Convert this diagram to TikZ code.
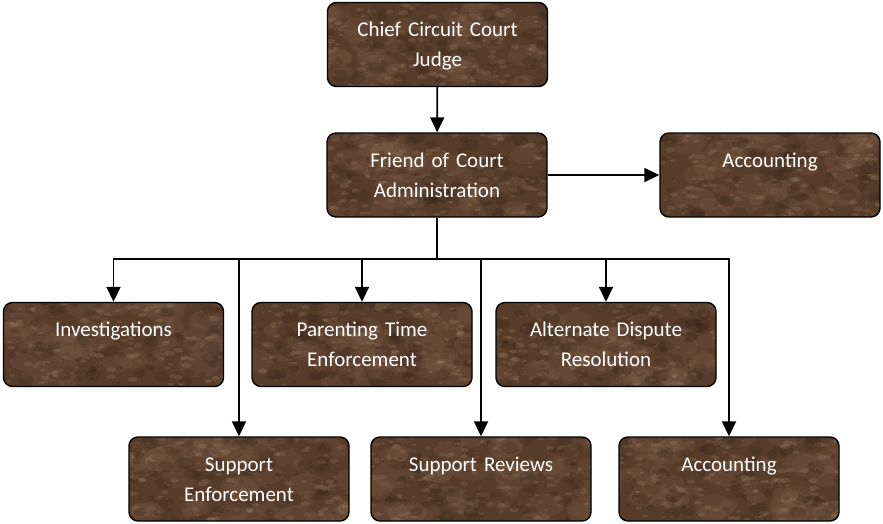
\documentclass[tikz,border=0pt]{standalone}
\usepackage{fontspec}
\setmainfont{Carlito}
\usetikzlibrary{arrows.meta,calc}
\definecolor{marble}{RGB}{88,60,42}
\definecolor{marblelight}{RGB}{190,160,128}
\definecolor{marbledark}{RGB}{40,25,16}
\tikzset{
  marbletex/.style={path picture={
    \foreach \k in {1,...,40}{
      \pgfmathsetmacro{\px}{rnd*225}
      \pgfmathsetmacro{\py}{rnd*88}
      \pgfmathsetmacro{\pr}{8+rnd*14}
      \fill[marblelight, opacity=0.08]
        ($(path picture bounding box.south west)+(\px pt,\py pt)$)
        circle [x radius=\pr pt, y radius=0.6*\pr pt];
    }
    \foreach \k in {1,...,150}{
      \pgfmathsetmacro{\px}{rnd*225}
      \pgfmathsetmacro{\py}{rnd*88}
      \pgfmathsetmacro{\pr}{1.2+rnd*4}
      \fill[marblelight, opacity=0.17]
        ($(path picture bounding box.south west)+(\px pt,\py pt)$)
        circle [x radius=\pr pt, y radius=0.5*\pr pt];
    }
    \foreach \k in {1,...,80}{
      \pgfmathsetmacro{\px}{rnd*225}
      \pgfmathsetmacro{\py}{rnd*88}
      \pgfmathsetmacro{\pr}{2+rnd*7}
      \fill[marbledark, opacity=0.18]
        ($(path picture bounding box.south west)+(\px pt,\py pt)$)
        circle [x radius=\pr pt, y radius=0.7*\pr pt];
    }
  }},
  box/.style={draw=black, line width=1.4pt, rounded corners=9pt, fill=marble,
    minimum width=220pt, minimum height=84pt, inner sep=0pt, marbletex},
  lbl/.style={text=white, font=\fontsize{21}{30}\selectfont, align=center,
    text width=216pt, anchor=base, inner sep=0pt},
  conn/.style={line width=1.8pt},
  arr/.style={conn, -{Triangle[length=15pt,width=14pt]}}
}
\begin{document}
\begin{tikzpicture}[x=1pt,y=-1pt]
\pgfmathsetseed{11}
\useasboundingbox (0,0) rectangle (883,523);
% boxes
\node[box] (chief)  at (437.5,44.5) {};
\node[box] (friend) at (437,175) {};
\node[box] (acct)   at (770,175) {};
\node[box] (inv)    at (113.5,344.5) {};
\node[box] (par)    at (362,344.5) {};
\node[box] (alt)    at (606,344.5) {};
\node[box] (supenf) at (239,479) {};
\node[box] (suprev) at (481,479) {};
\node[box] (accb)   at (729,479) {};
% labels
\node[lbl] (tchief)  at ($(chief.north)+(0,-35pt)$) {Chief Circuit Court\\Judge};
\node[lbl] (tfriend) at ($(friend.north)+(0,-35pt)$) {Friend of Court\\Administration};
\node[lbl] (tacct)   at ($(acct.north)+(0,-35pt)$) {Accounting};
\node[lbl] (tinv)    at ($(inv.north)+(0,-35pt)$) {Investigations};
\node[lbl] (tpar)    at ($(par.north)+(0,-35pt)$) {Parenting Time\\Enforcement};
\node[lbl] (talt)    at ($(alt.north)+(0,-35pt)$) {Alternate Dispute\\Resolution};
\node[lbl] (tsupenf) at ($(supenf.north)+(0,-35pt)$) {Support\\Enforcement};
\node[lbl] (tsuprev) at ($(suprev.north)+(0,-35pt)$) {Support Reviews};
\node[lbl] (taccb)   at ($(accb.north)+(0,-35pt)$) {Accounting};
% connectors
\draw[arr] (chief) -- (friend);
\draw[arr] (friend) -- (acct);
\coordinate (bus) at (437,259);
\draw[conn, line width=2.6pt] (friend) -- (bus);
\draw[arr] (bus) -| (inv);
\draw[arr] (bus) -| (supenf);
\draw[arr] (bus) -| (par);
\draw[arr] (bus) -| (suprev);
\draw[arr] (bus) -| (alt);
\draw[arr] (bus) -| (accb);
\end{tikzpicture}
\end{document}
